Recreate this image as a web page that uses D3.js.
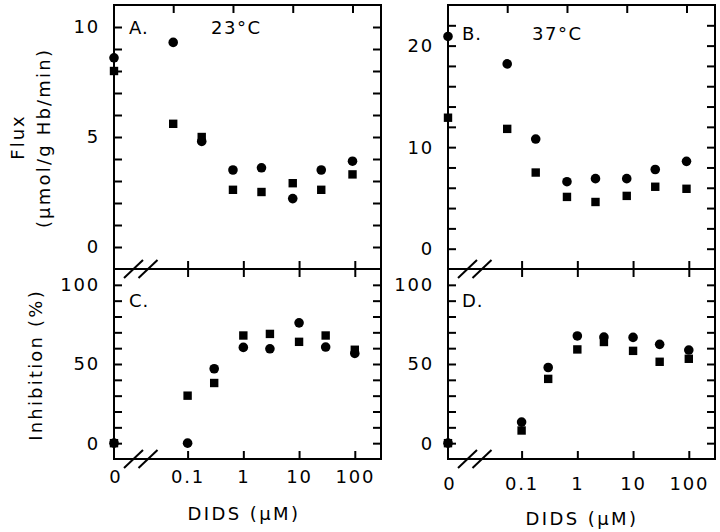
<!DOCTYPE html>
<html>
<head>
<meta charset="utf-8">
<script src="https://cdn.jsdelivr.net/npm/d3@7"></script>
<style>
  html, body { margin: 0; padding: 0; background: #fff; }
  svg { display: block; }
  text { font-family: "DejaVu Sans", sans-serif; fill: #000; }
</style>
</head>
<body>
<svg id="chart" width="720" height="532"></svg>
<script>
// ---------------- data ----------------
const concentrations = [0, 0.1, 0.3, 1, 3, 10, 30, 100];   // DIDS (µM)

const fluxA_circle = [8.6, 9.3, 4.8, 3.5, 3.6, 2.2, 3.5, 3.9];
const fluxA_square = [8.0, 5.6, 5.0, 2.6, 2.5, 2.9, 2.6, 3.3];

const fluxB_circle = [20.9, 18.2, 10.8, 6.6, 6.9, 6.9, 7.8, 8.6];
const fluxB_square = [12.9, 11.8, 7.5, 5.1, 4.6, 5.2, 6.1, 5.9];

const inhC_circle = [0, 0, 47, 60.5, 59.6, 76, 60.7, 56.7];
const inhC_square = [0, 30, 38, 68, 69, 64, 68, 59];

const inhD_circle = [0, 13.3, 47.8, 67.7, 67.0, 66.8, 62.4, 58.8];
const inhD_square = [0, 8, 40.6, 59.2, 63.9, 58.3, 51.4, 53.3];

const xTickValues = [0.1, 1, 10, 100];
const xTickLabels = ["0.1", "1", "10", "100"];

const yTicksA = [0, 5, 10];
const yTicksB = [0, 10, 20];
const yTicksCD = [0, 50, 100];

const panelLetters = ["A.", "B.", "C.", "D."];
const temperatures = ["23°C", "37°C"];
const xTitle = "DIDS (μM)";
const yTitleTop = ["Flux", "(μmol/g Hb/min)"];
const yTitleBottom = "Inhibition (%)";

// ---------------- layout ----------------
const svg = d3.select("#chart");
const W = 267;
const lefts = [114, 448];
const yTop = 5, yMid = 269, yBot = 459;
const SW = 2;
const TICK = 8;
const FONT = 18;

const panels = [
  { key: "A", left: lefts[0], top: yTop, bottom: yMid, ydom: [-1, 11], minor: 1, major: yTicksA,
    circ: fluxA_circle, sq: fluxA_square, row: "top", letter: panelLetters[0], temp: temperatures[0],
    lblY: 34, tempX: 211 },
  { key: "B", left: lefts[1], top: yTop, bottom: yMid, ydom: [-2, 24], minor: 2, major: yTicksB,
    circ: fluxB_circle, sq: fluxB_square, row: "top", letter: panelLetters[1], temp: temperatures[1],
    lblY: 40, tempX: 532 },
  { key: "C", left: lefts[0], top: yMid, bottom: yBot, ydom: [-10, 110], minor: 10, major: yTicksCD,
    circ: inhC_circle, sq: inhC_square, row: "bottom", letter: panelLetters[2],
    lblY: 307, xLabelPad: 11, titleY: 520, titleX: 244 },
  { key: "D", left: lefts[1], top: yMid, bottom: yBot, ydom: [-10, 110], minor: 10, major: yTicksCD,
    circ: inhD_circle, sq: inhD_square, row: "bottom", letter: panelLetters[3],
    lblY: 307, xLabelPad: 18.5, titleY: 525, titleX: 582 }
];

function topScale(left) {
  return d3.scaleLog().domain([0.1, 100]).range([left + 59.2, left + 238.5]);
}
function bottomScale(left) {
  return d3.scaleLog().domain([0.1, 100]).range([left + 73.6, left + 240.8]);
}

panels.forEach(p => {
  const g = svg.append("g");
  const right = p.left + W;
  const y = d3.scaleLinear().domain(p.ydom).range([p.bottom, p.top]);
  const xs = p.row === "top" ? topScale(p.left) : bottomScale(p.left);
  const xOf = v => v === 0 ? p.left : xs(v);

  // border
  g.append("rect")
    .attr("x", p.left).attr("y", p.top)
    .attr("width", W).attr("height", p.bottom - p.top)
    .attr("fill", "none").attr("stroke", "#000").attr("stroke-width", SW);

  // y ticks (all minor positions, labels only on majors)
  const yVals = d3.range(Math.ceil(p.ydom[0] / p.minor) * p.minor, p.ydom[1], p.minor)
                  .filter(v => v > p.ydom[0] && v < p.ydom[1]);
  const leftAxis = d3.axisLeft(y).tickValues(yVals)
    .tickSizeInner(-TICK).tickSizeOuter(0).tickPadding(14)
    .tickFormat(v => p.major.includes(v) ? String(v) : "");
  const la = g.append("g").attr("transform", `translate(${p.left},0)`).call(leftAxis);
  la.select(".domain").remove();
  la.selectAll("line").attr("stroke", "#000").attr("stroke-width", SW);
  la.selectAll("text").attr("font-size", FONT).attr("letter-spacing", "1.8px")
    .attr("font-family", "DejaVu Sans, sans-serif").attr("fill", "#000").attr("dy", "0.33em");

  const rightAxis = d3.axisRight(y).tickValues(yVals)
    .tickSizeInner(-TICK).tickSizeOuter(0).tickFormat("");
  const ra = g.append("g").attr("transform", `translate(${right},0)`).call(rightAxis);
  ra.select(".domain").remove();
  ra.selectAll("line").attr("stroke", "#000").attr("stroke-width", SW);

  if (p.row === "top") {
    const ta = g.append("g").attr("transform", `translate(0,${p.top})`)
      .call(d3.axisTop(xs).tickValues(xTickValues).tickSizeInner(-TICK).tickSizeOuter(0).tickFormat(""));
    ta.select(".domain").remove();
    ta.selectAll("line").attr("stroke", "#000").attr("stroke-width", SW);
  } else {
    const ba = g.append("g").attr("transform", `translate(0,${p.bottom})`)
      .call(d3.axisBottom(xs).tickValues(xTickValues).tickSizeInner(-TICK).tickSizeOuter(0)
        .tickPadding(p.xLabelPad).tickFormat((d, i) => xTickLabels[i]));
    ba.select(".domain").remove();
    ba.selectAll("line").attr("stroke", "#000").attr("stroke-width", SW);
    ba.selectAll("text").attr("font-size", FONT).attr("letter-spacing", "1.8px")
      .attr("font-family", "DejaVu Sans, sans-serif").attr("fill", "#000");
    g.append("text").attr("x", p.left + 1).attr("y", p.bottom + p.xLabelPad + 0.71 * FONT)
      .attr("text-anchor", "middle").attr("font-size", FONT).text("0");

    const up = g.append("g").attr("transform", `translate(0,${p.top})`)
      .call(d3.axisTop(xs).tickValues(xTickValues).tickSizeInner(TICK).tickSizeOuter(0).tickFormat(""));
    const dn = g.append("g").attr("transform", `translate(0,${p.top})`)
      .call(d3.axisBottom(xs).tickValues(xTickValues).tickSizeInner(TICK).tickSizeOuter(0).tickFormat(""));
    [up, dn].forEach(a => {
      a.select(".domain").remove();
      a.selectAll("line").attr("stroke", "#000").attr("stroke-width", SW);
    });

    [p.top, p.bottom].forEach(yy => {
      [19.5, 34].forEach(off => {
        g.append("line")
          .attr("x1", p.left + off - 9.5).attr("y1", yy + 9)
          .attr("x2", p.left + off + 9.5).attr("y2", yy - 9)
          .attr("stroke", "#000").attr("stroke-width", SW);
      });
    });

    g.append("text").attr("x", p.titleX).attr("y", p.titleY)
      .attr("text-anchor", "middle").attr("font-size", FONT).attr("letter-spacing", "2.4px")
      .text(xTitle);
  }

  const S = 8.4;
  g.selectAll("rect.sq").data(concentrations.map((c, i) => [c, p.sq[i]]))
    .join("rect").attr("class", "sq")
    .attr("x", d => xOf(d[0]) - S / 2).attr("y", d => y(d[1]) - S / 2)
    .attr("width", S).attr("height", S).attr("fill", "#000");
  g.selectAll("circle.ci").data(concentrations.map((c, i) => [c, p.circ[i]]))
    .join("circle").attr("class", "ci")
    .attr("cx", d => xOf(d[0])).attr("cy", d => y(d[1]))
    .attr("r", 4.8).attr("fill", "#000");

  g.append("text").attr("x", p.left + (p.key === "A" || p.key === "C" ? 15 : 14)).attr("y", p.lblY)
    .attr("font-size", FONT).attr("letter-spacing", "1px").text(p.letter);
  if (p.temp) {
    g.append("text").attr("x", p.tempX).attr("y", p.lblY)
      .attr("font-size", FONT).attr("letter-spacing", "1.5px").text(p.temp);
  }
});

svg.append("text").attr("transform", `translate(24,137) rotate(-90)`)
  .attr("text-anchor", "middle").attr("font-size", FONT).attr("letter-spacing", "2px")
  .text(yTitleTop[0]);
svg.append("text").attr("transform", `translate(50,138) rotate(-90)`)
  .attr("text-anchor", "middle").attr("font-size", FONT).attr("letter-spacing", "2.2px")
  .text(yTitleTop[1]);
svg.append("text").attr("transform", `translate(42,365) rotate(-90)`)
  .attr("text-anchor", "middle").attr("font-size", FONT).attr("letter-spacing", "2.2px")
  .text(yTitleBottom);
</script>
</body>
</html>
